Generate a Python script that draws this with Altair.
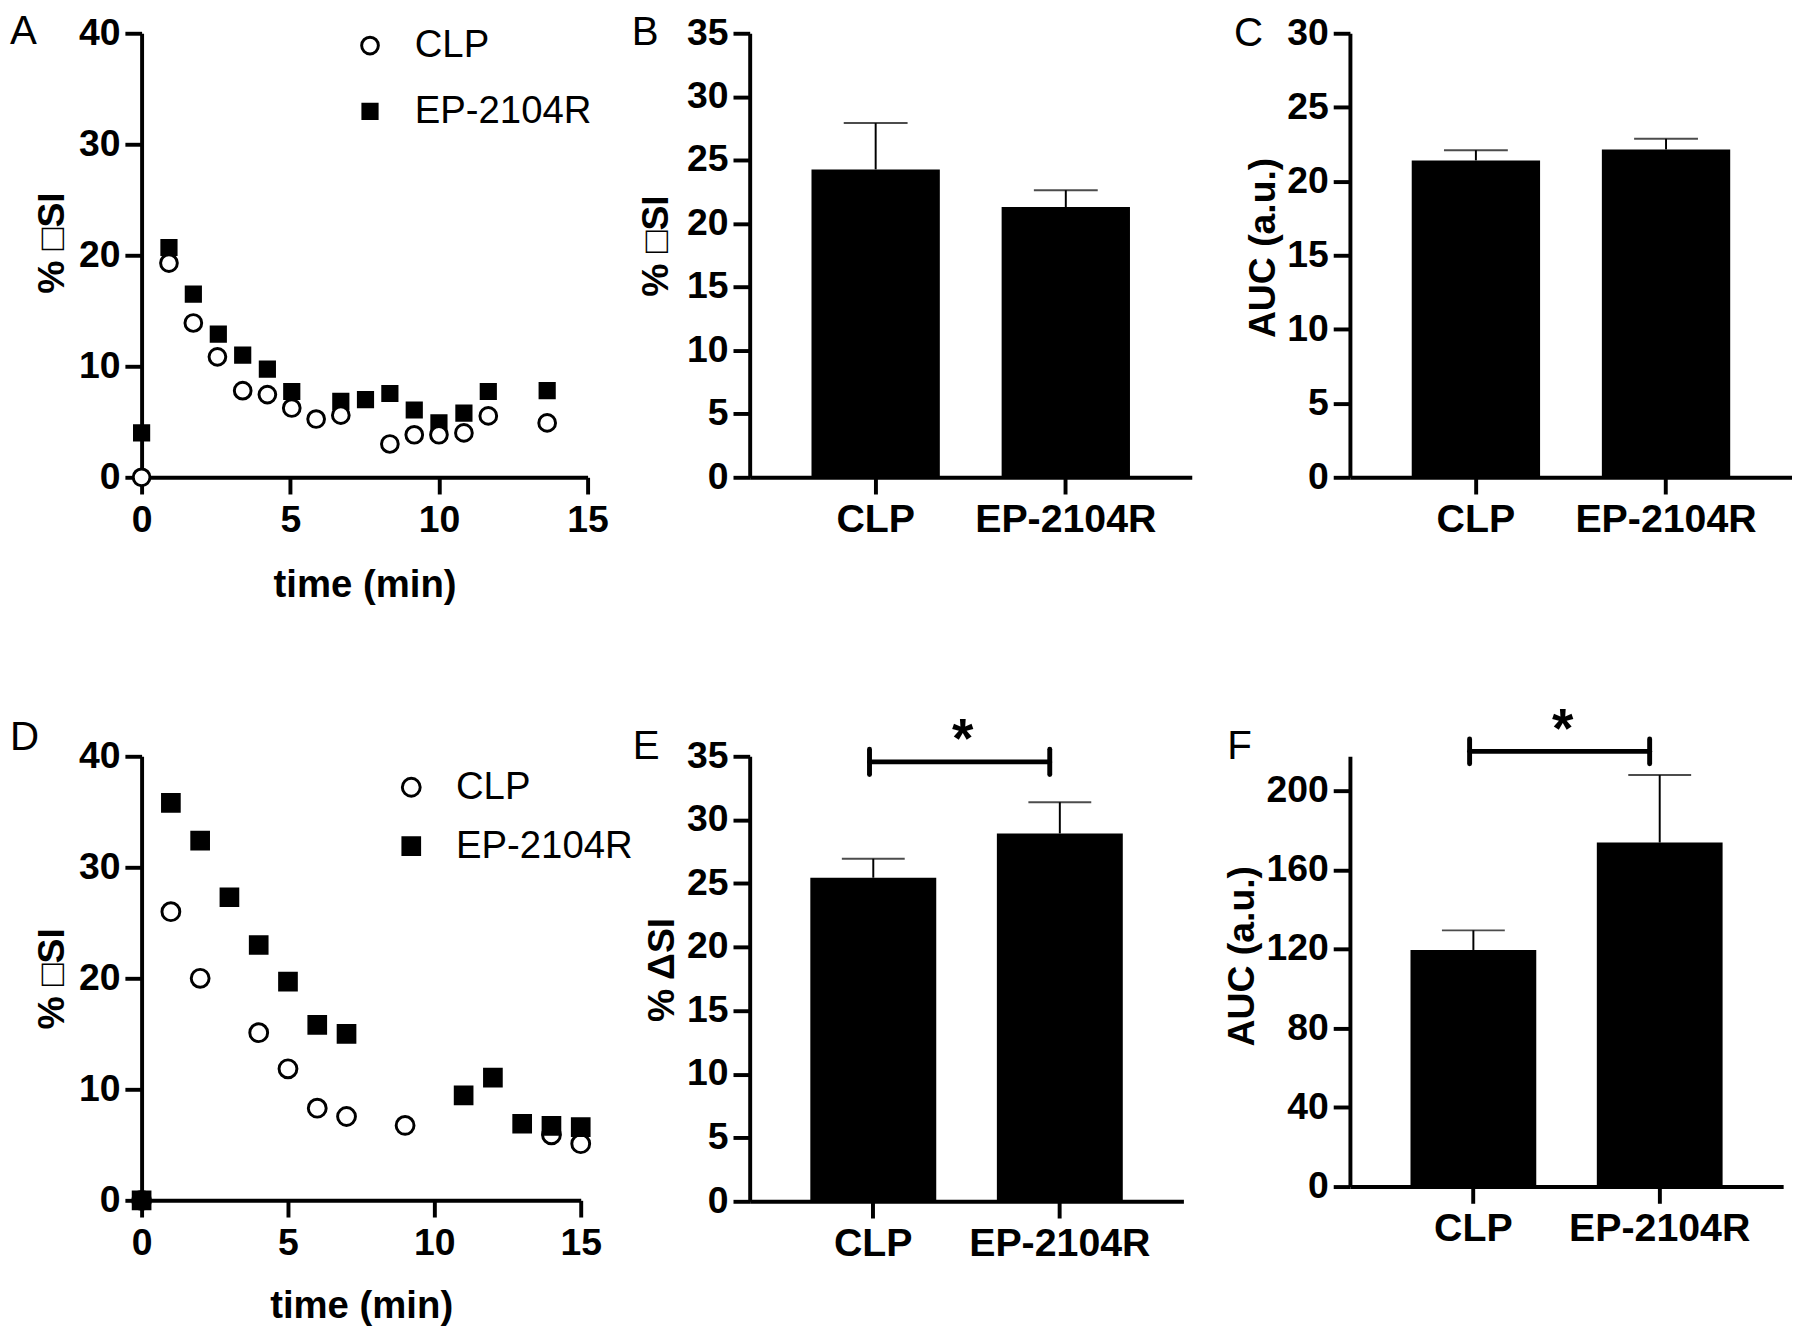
import altair as alt
import pandas as pd

FONT = "Liberation Sans"
GROUPS = ["CLP", "EP-2104R"]

# ---------- Panel A: time course ----------
a_clp_t = [0, 0.92, 1.74, 2.55, 3.40, 4.23, 5.05, 5.87, 6.70, 8.35, 9.17, 10.0, 10.84, 11.66, 13.64]
a_clp_si = [0, 19.3, 13.9, 10.85, 7.8, 7.45, 6.24, 5.25, 5.6, 3.0, 3.83, 3.83, 4.0, 5.53, 4.9]
a_ep_t = [0, 0.92, 1.74, 2.58, 3.40, 4.23, 5.05, 6.70, 7.53, 8.35, 9.17, 10.0, 10.84, 11.66, 13.64]
a_ep_si = [4.0, 20.7, 16.5, 12.9, 11.0, 9.75, 7.73, 6.84, 7.0, 7.55, 6.06, 4.9, 5.78, 7.73, 7.8]

# ---------- Panel D: time course ----------
d_clp_t = [0, 1, 2, 4, 5, 6, 7, 9, 14, 15]
d_clp_si = [0, 26.0, 20.0, 15.1, 11.85, 8.3, 7.55, 6.75, 5.9, 5.1]
d_ep_t = [0, 1, 2, 3, 4, 5, 6, 7, 11, 12, 13, 14, 15]
d_ep_si = [0, 35.8, 32.4, 27.3, 23.0, 19.7, 15.8, 15.0, 9.45, 11.05, 6.9, 6.7, 6.6]

# ---------- Bar panels: mean and upper error ----------
b_mean = [24.27, 21.3]
b_err = [27.92, 22.63]
c_mean = [21.41, 22.15]
c_err = [22.10, 22.87]
e_mean = [25.45, 28.93]
e_err = [26.94, 31.39]
f_mean = [119.6, 173.9]
f_err = [129.5, 208.0]

# significance brackets (y level, half height of end ticks, star level)
e_bracket = [34.56, 1.0, 34.6]
f_bracket = [220.0, 6.3, 220.0]

SI_TITLE = "% \u25A1SI"
E_TITLE = "% \u0394SI"
AUC_TITLE = "AUC (a.u.)"


def letter(lab, px, py):
    return alt.Chart(pd.DataFrame({"lab": [lab]})).mark_text(
        align="left", baseline="alphabetic", font=FONT, fontSize=41,
        fontWeight="normal", color="black").encode(
        text="lab:N", x=alt.value(px), y=alt.value(py))


def scatter(clp_t, clp_y, ep_t, ep_y, squares_on_top, width, height, lab, lpx, lpy,
            lx, ly, rowpad, sizes, tx, ty, xty, legfont):
    clp = pd.DataFrame({"t": clp_t, "si": clp_y, "group": "CLP"})
    ep = pd.DataFrame({"t": ep_t, "si": ep_y, "group": "EP-2104R"})
    df = pd.concat([clp, ep] if squares_on_top else [ep, clp], ignore_index=True)
    leg = alt.Legend(title=None, orient="none", legendX=lx, legendY=ly,
                     labelFont=FONT, labelFontSize=legfont, labelFontWeight="normal",
                     labelColor="black", labelLimit=500,
                     symbolStrokeWidth=3, rowPadding=rowpad, labelOffset=26,
                     padding=0)
    pts = alt.Chart(df).mark_point(filled=True, strokeWidth=3, opacity=1).encode(
        x=alt.X("t:Q", scale=alt.Scale(domain=[0, 15], nice=False, zero=False),
                axis=alt.Axis(values=[0, 5, 10, 15], title="time (min)",
                              labelFlush=False, labelOverlap=False,
                              labelBaseline="alphabetic", labelPadding=38,
                              titleY=xty, titleBaseline="alphabetic",
                              titleFontSize=39)),
        y=alt.Y("si:Q", scale=alt.Scale(domain=[0, 40], nice=False),
                axis=alt.Axis(values=[0, 10, 20, 30, 40], title=SI_TITLE,
                              titleX=tx, titleY=ty, titleAngle=270,
                              titleAlign="center", titleBaseline="alphabetic")),
        shape=alt.Shape("group:N", scale=alt.Scale(domain=GROUPS, range=["circle", "square"]),
                        legend=leg),
        fill=alt.Fill("group:N", scale=alt.Scale(domain=GROUPS, range=["white", "black"]),
                      legend=leg),
        stroke=alt.Stroke("group:N", scale=alt.Scale(domain=GROUPS, range=["black", "black"]),
                          legend=leg),
        size=alt.Size("group:N", scale=alt.Scale(domain=GROUPS, range=sizes), legend=leg),
    )
    return alt.layer(pts, letter(lab, lpx, lpy)).properties(width=width, height=height)


def bars(means, errs, ymax, yvals, ytitle, width, height, lab, lpx, lpy, tx, ty,
         capw, bracket=None):
    df = pd.DataFrame({"group": GROUPS, "mean": means, "err": errs})
    xscale = alt.Scale(domain=GROUPS, paddingInner=0.325, paddingOuter=0.325)
    yscale = alt.Scale(domain=[0, ymax], nice=False)
    xaxis = alt.Axis(title=None, labelAngle=0, labelFontSize=40, labelLimit=400,
                     labelBaseline="alphabetic", labelPadding=38)
    yaxis = alt.Axis(values=yvals, title=ytitle, titleX=tx, titleY=ty,
                     titleAngle=270, titleAlign="center", titleBaseline="alphabetic")
    base = alt.Chart(df)
    bar = base.mark_bar(color="black").encode(
        x=alt.X("group:N", sort=GROUPS, scale=xscale, axis=xaxis),
        y=alt.Y("mean:Q", scale=yscale, axis=yaxis))
    stem = base.mark_rule(color="black", strokeWidth=2).encode(
        x=alt.X("group:N", sort=GROUPS, scale=xscale, axis=xaxis),
        y=alt.Y("mean:Q", scale=yscale, axis=yaxis), y2="err:Q")
    cap = base.mark_tick(color="black", thickness=2, size=capw, orient="horizontal").encode(
        x=alt.X("group:N", sort=GROUPS, scale=xscale, axis=xaxis),
        y=alt.Y("err:Q", scale=yscale, axis=yaxis))
    layers = [bar, stem, cap]
    if bracket is not None:
        yb, half, ys = bracket
        bdf = pd.DataFrame({"g1": ["CLP"], "g2": ["EP-2104R"], "y": [yb],
                            "lo": [yb - half], "hi": [yb + half], "ys": [ys]})
        bb = alt.Chart(bdf)
        hline = bb.mark_rule(color="black", strokeWidth=5, strokeCap="round").encode(
            x=alt.X("g1:N", scale=xscale, axis=xaxis, bandPosition=0.47),
            x2=alt.X2("g2:N", bandPosition=0.42),
            y=alt.Y("y:Q", scale=yscale, axis=yaxis))
        lend = bb.mark_rule(color="black", strokeWidth=5, strokeCap="round").encode(
            x=alt.X("g1:N", scale=xscale, axis=xaxis, bandPosition=0.47),
            y=alt.Y("lo:Q", scale=yscale, axis=yaxis), y2="hi:Q")
        rend = bb.mark_rule(color="black", strokeWidth=5, strokeCap="round").encode(
            x=alt.X("g2:N", scale=xscale, axis=xaxis, bandPosition=0.42),
            y=alt.Y("lo:Q", scale=yscale, axis=yaxis), y2="hi:Q")
        star = bb.mark_text(text="*", font=FONT, fontSize=56, fontWeight="bold",
                            baseline="alphabetic", align="center", dx=91, dy=-4,
                            color="black").encode(
            x=alt.X("g1:N", scale=xscale, axis=xaxis),
            y=alt.Y("ys:Q", scale=yscale, axis=yaxis))
        layers += [hline, lend, rend, star]
    layers.append(letter(lab, lpx, lpy))
    return alt.layer(*layers).properties(width=width, height=height)


def spacer(w):
    return alt.Chart(pd.DataFrame({"s": [0]})).mark_point(opacity=0).encode(
        x=alt.value(0), y=alt.value(0)).properties(width=w, height=1)


A = scatter(a_clp_t, a_clp_si, a_ep_t, a_ep_si, False, 454, 452, "A", -134, 11.4,
            213, -7, 27, [290, 210], -79, 213, 121, 39)
B = bars(b_mean, b_err, 35, [0, 5, 10, 15, 20, 25, 30, 35], SI_TITLE, 450, 452,
         "B", -120, 12.4, -84, 216, 65)
C = bars(c_mean, c_err, 30, [0, 5, 10, 15, 20, 25, 30], AUC_TITLE, 450, 452,
         "C", -118, 13.4, -77, 218, 65)
D = scatter(d_clp_t, d_clp_si, d_ep_t, d_ep_si, True, 447, 452, "D", -134, -6.4,
            255, 12, 20, [330, 290], -80, 226, 119, 39)
E = bars(e_mean, e_err, 35, [0, 5, 10, 15, 20, 25, 30, 35], E_TITLE, 441.5, 453,
         "E", -119, 2.6, -78, 217, 64, bracket=e_bracket)
F = bars(f_mean, f_err, 217.5, [0, 40, 80, 120, 160, 200], AUC_TITLE, 441, 438,
         "F", -125, 2.6, -98, 203, 64, bracket=f_bracket)

chart = alt.concat(
    A, spacer(156), B, spacer(140), C,
    D, spacer(164.5), E, spacer(161), F,
    columns=5, spacing={"row": 284, "column": 0}, bounds="flush", align="none",
).resolve_scale(
    shape="independent", fill="independent", stroke="independent", size="independent"
).resolve_legend(
    shape="independent", fill="independent", stroke="independent", size="independent"
).properties(
    padding={"left": 2, "top": -8.2, "right": 0, "bottom": 0}, background="white"
).configure_view(stroke=None).configure_axis(
    domainColor="black", domainWidth=4, tickColor="black", tickWidth=4, tickSize=17,
    labelFont=FONT, labelFontSize=38, labelFontWeight="bold", labelColor="black",
    labelPadding=5, titleFont=FONT, titleFontSize=38, titleFontWeight="bold",
    titleColor="black", grid=False, zindex=1,
)

chart.save("out.html", embed_options={"renderer": "svg", "actions": False})
